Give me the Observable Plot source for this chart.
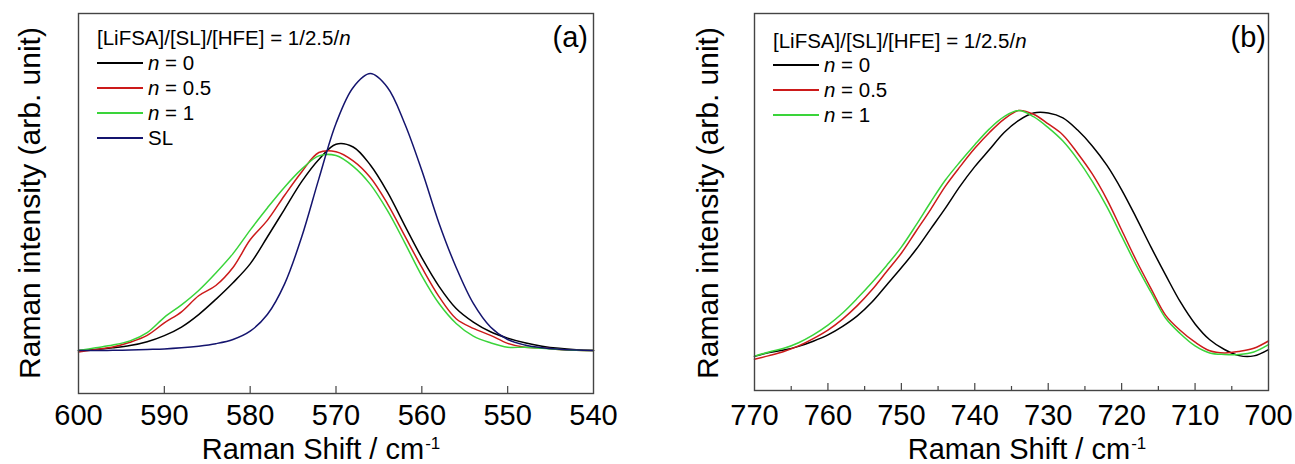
<!DOCTYPE html>
<html><head><meta charset="utf-8">
<script src="https://cdn.jsdelivr.net/npm/d3@7"></script>
<script src="https://cdn.jsdelivr.net/npm/@observablehq/plot@0.6"></script>
<style>
body{margin:0;background:#fff;font-family:Arial,"Liberation Sans",sans-serif;color:#000;}
#wrap{position:relative;width:1295px;height:464px;overflow:hidden;background:#fff;}
.panel{position:absolute;top:0;}
.ylab{position:absolute;white-space:nowrap;font-size:30px;transform:translate(-50%,-50%) rotate(-90deg);}
.xlab{position:absolute;white-space:nowrap;font-size:29px;line-height:1;transform:translate(-50%,0);display:flex;align-items:flex-start;}
.xlab .sup{font-size:17px;line-height:1;margin-left:1px;}
.tag{position:absolute;font-size:29px;transform:translate(-100%,-50%);}
.leg{position:absolute;font-size:20.5px;white-space:nowrap;}
.row{position:absolute;display:flex;align-items:center;transform:translateY(-50%);}
.row span.sw{display:inline-block;width:46px;height:0;border-top:2px solid;margin-right:5px;}
</style></head>
<body><div id="wrap"></div>
<script>
// ---------- Panel (a) data ----------
const shiftA = [600,598,596,594,592,590,588,586,584,582,580,578,576,574,572,570,568,566,564,562,560,558,556,554,552,550,548,546,544,542,540];
const n0A  = [0,0.004,0.01,0.018,0.032,0.054,0.085,0.13,0.185,0.245,0.313,0.41,0.51,0.61,0.69,0.745,0.735,0.67,0.572,0.452,0.335,0.232,0.152,0.103,0.068,0.045,0.028,0.016,0.008,0.003,0];
const n05A = [-0.005,0.004,0.013,0.03,0.055,0.10,0.14,0.198,0.235,0.30,0.40,0.47,0.56,0.645,0.715,0.718,0.685,0.625,0.53,0.415,0.30,0.195,0.115,0.08,0.055,0.026,0.012,0.01,0.004,0.001,0];
const n1A  = [0,0.01,0.02,0.035,0.065,0.12,0.165,0.217,0.28,0.35,0.435,0.515,0.59,0.655,0.703,0.704,0.665,0.60,0.505,0.39,0.27,0.17,0.098,0.052,0.028,0.012,0.012,0.008,0.004,0.001,0];
const slA  = [0,0,0.001,0.002,0.004,0.006,0.01,0.016,0.025,0.04,0.07,0.13,0.24,0.41,0.62,0.82,0.95,1.0,0.95,0.82,0.65,0.46,0.30,0.17,0.085,0.04,0.02,0.01,0.005,0.002,0];
const seriesA = ["n = 0","n = 0.5","n = 1","SL"];
const ticksA = [600,590,580,570,560,550,540];

// ---------- Panel (b) data ----------
const shiftB = [770,768,766,764,762,760,758,756,754,752,750,748,746,744,742,740,738,736,734,732,730,728,726,724,722,720,718,716,714,712,710,708,706,704,702,700];
const n0B  = [-0.008,0.008,0.018,0.033,0.054,0.08,0.115,0.158,0.215,0.285,0.355,0.43,0.515,0.60,0.69,0.77,0.84,0.91,0.96,0.99,0.99,0.97,0.92,0.855,0.775,0.675,0.56,0.44,0.325,0.215,0.125,0.06,0.02,-0.005,-0.006,0.02];
const n05B = [-0.02,-0.005,0.012,0.035,0.065,0.10,0.145,0.2,0.265,0.34,0.415,0.505,0.595,0.69,0.77,0.845,0.91,0.965,1.0,0.985,0.945,0.9,0.825,0.74,0.635,0.51,0.385,0.27,0.16,0.098,0.05,0.015,0.006,0.012,0.025,0.055];
const n1B  = [-0.007,0.01,0.025,0.048,0.08,0.12,0.17,0.23,0.295,0.365,0.44,0.53,0.625,0.715,0.79,0.86,0.925,0.975,1.0,0.975,0.93,0.875,0.80,0.71,0.605,0.485,0.365,0.255,0.148,0.085,0.035,0.006,0,0,0.01,0.04];
const seriesB = ["n = 0","n = 0.5","n = 1"];
const ticksB = [770,760,750,740,730,720,710,700];
const minorB = [765,755,745,735,725,715,705];

const legendTitle = "[LiFSA]/[SL]/[HFE] = 1/2.5/";
const xTitle = "Raman Shift / cm";
const xTitleSup = "-1";
const yTitle = "Raman intensity (arb. unit)";

// ---------- styles ----------
const colorMap = {"n = 0":"#000000","n = 0.5":"#cc1a1a","n = 1":"#3ad43a","SL":"#14146e"};

const rowsA = [n0A,n05A,n1A,slA].flatMap((vals,i)=>shiftA.map((x,j)=>({shift:x,value:vals[j],series:seriesA[i]})));
const rowsB = [n0B,n05B,n1B].flatMap((vals,i)=>shiftB.map((x,j)=>({shift:x,value:vals[j],series:seriesB[i]})));

function panel({rows, series, xDomain, yDomain, ticks, major, minor, W, mL, mR, mT, mB, pad}) {
  const plotH = 464 - mT - mB;
  const marks = [
    Plot.line(rows, {x:"shift", y:"value", z:"series", stroke:"series", curve:"catmull-rom", strokeWidth:1.5}),
    Plot.frame({stroke:"#444", strokeWidth:1.4}),
    Plot.ruleX(major, {x:d=>d, insetTop: plotH - 7, stroke:"#444", strokeWidth:1.2}),
    Plot.axisX(ticks, {tickSize:0, tickPadding:pad, fontSize:29, label:null, tickFormat:d=>String(d)})
  ];
  if (minor) marks.push(Plot.ruleX(minor, {x:d=>d, insetTop: plotH - 4, stroke:"#444", strokeWidth:1.2}));
  return Plot.plot({
    width:W, height:464, marginLeft:mL, marginRight:mR, marginTop:mT, marginBottom:mB,
    x:{domain:xDomain, label:null},
    y:{domain:yDomain, axis:null},
    color:{domain:series, range:series.map(s=>colorMap[s])},
    style:{fontFamily:'Arial, "Liberation Sans", sans-serif', color:"#000", background:"transparent"},
    marks
  });
}

const wrap = document.getElementById("wrap");

const pa = panel({rows:rowsA, series:seriesA, xDomain:[600,540], yDomain:[-0.155,1.217], ticks:ticksA,
  major:[590,580,570,560,550], minor:null, W:620, mL:78, mR:27, mT:13, mB:71, pad:11});
pa.classList.add("panel"); pa.style.left = "0px";
wrap.appendChild(pa);

const pb = panel({rows:rowsB, series:seriesB, xDomain:[770,700], yDomain:[-0.148,1.398], ticks:ticksB,
  major:[760,750,740,730,720,710], minor:minorB, W:645, mL:104, mR:27, mT:13, mB:74, pad:14});
pb.classList.add("panel"); pb.style.left = "650px";
wrap.appendChild(pb);

function addHTML(cls, html, left, top) {
  const d = document.createElement("div");
  d.className = cls; d.innerHTML = html;
  d.style.left = left + "px"; d.style.top = top + "px";
  wrap.appendChild(d);
  return d;
}
// axis titles
addHTML("ylab", yTitle, 30, 203);
addHTML("ylab", yTitle, 708, 203);
addHTML("xlab", `<span>${xTitle}</span><span class="sup">${xTitleSup}</span>`, 321, 435);
addHTML("xlab", `<span>${xTitle}</span><span class="sup">${xTitleSup}</span>`, 1027, 435);
// panel tags
addHTML("tag", "(a)", 588, 37);
addHTML("tag", "(b)", 1266, 37);

function legend(series, x, yTitleC, yRows) {
  addHTML("row leg", `<span>${legendTitle}<i>n</i></span>`, x, yTitleC);
  series.forEach((s,i)=>{
    const lab = s.startsWith("n") ? "<i>n</i>" + s.slice(1) : s;
    addHTML("row leg", `<span class="sw" style="border-color:${colorMap[s]}"></span><span>${lab}</span>`, x, yRows[i]);
  });
}
legend(seriesA, 97, 38, [63,88,113,138]);
legend(seriesB, 773, 41, [65,90,115]);
</script>
</body></html>
